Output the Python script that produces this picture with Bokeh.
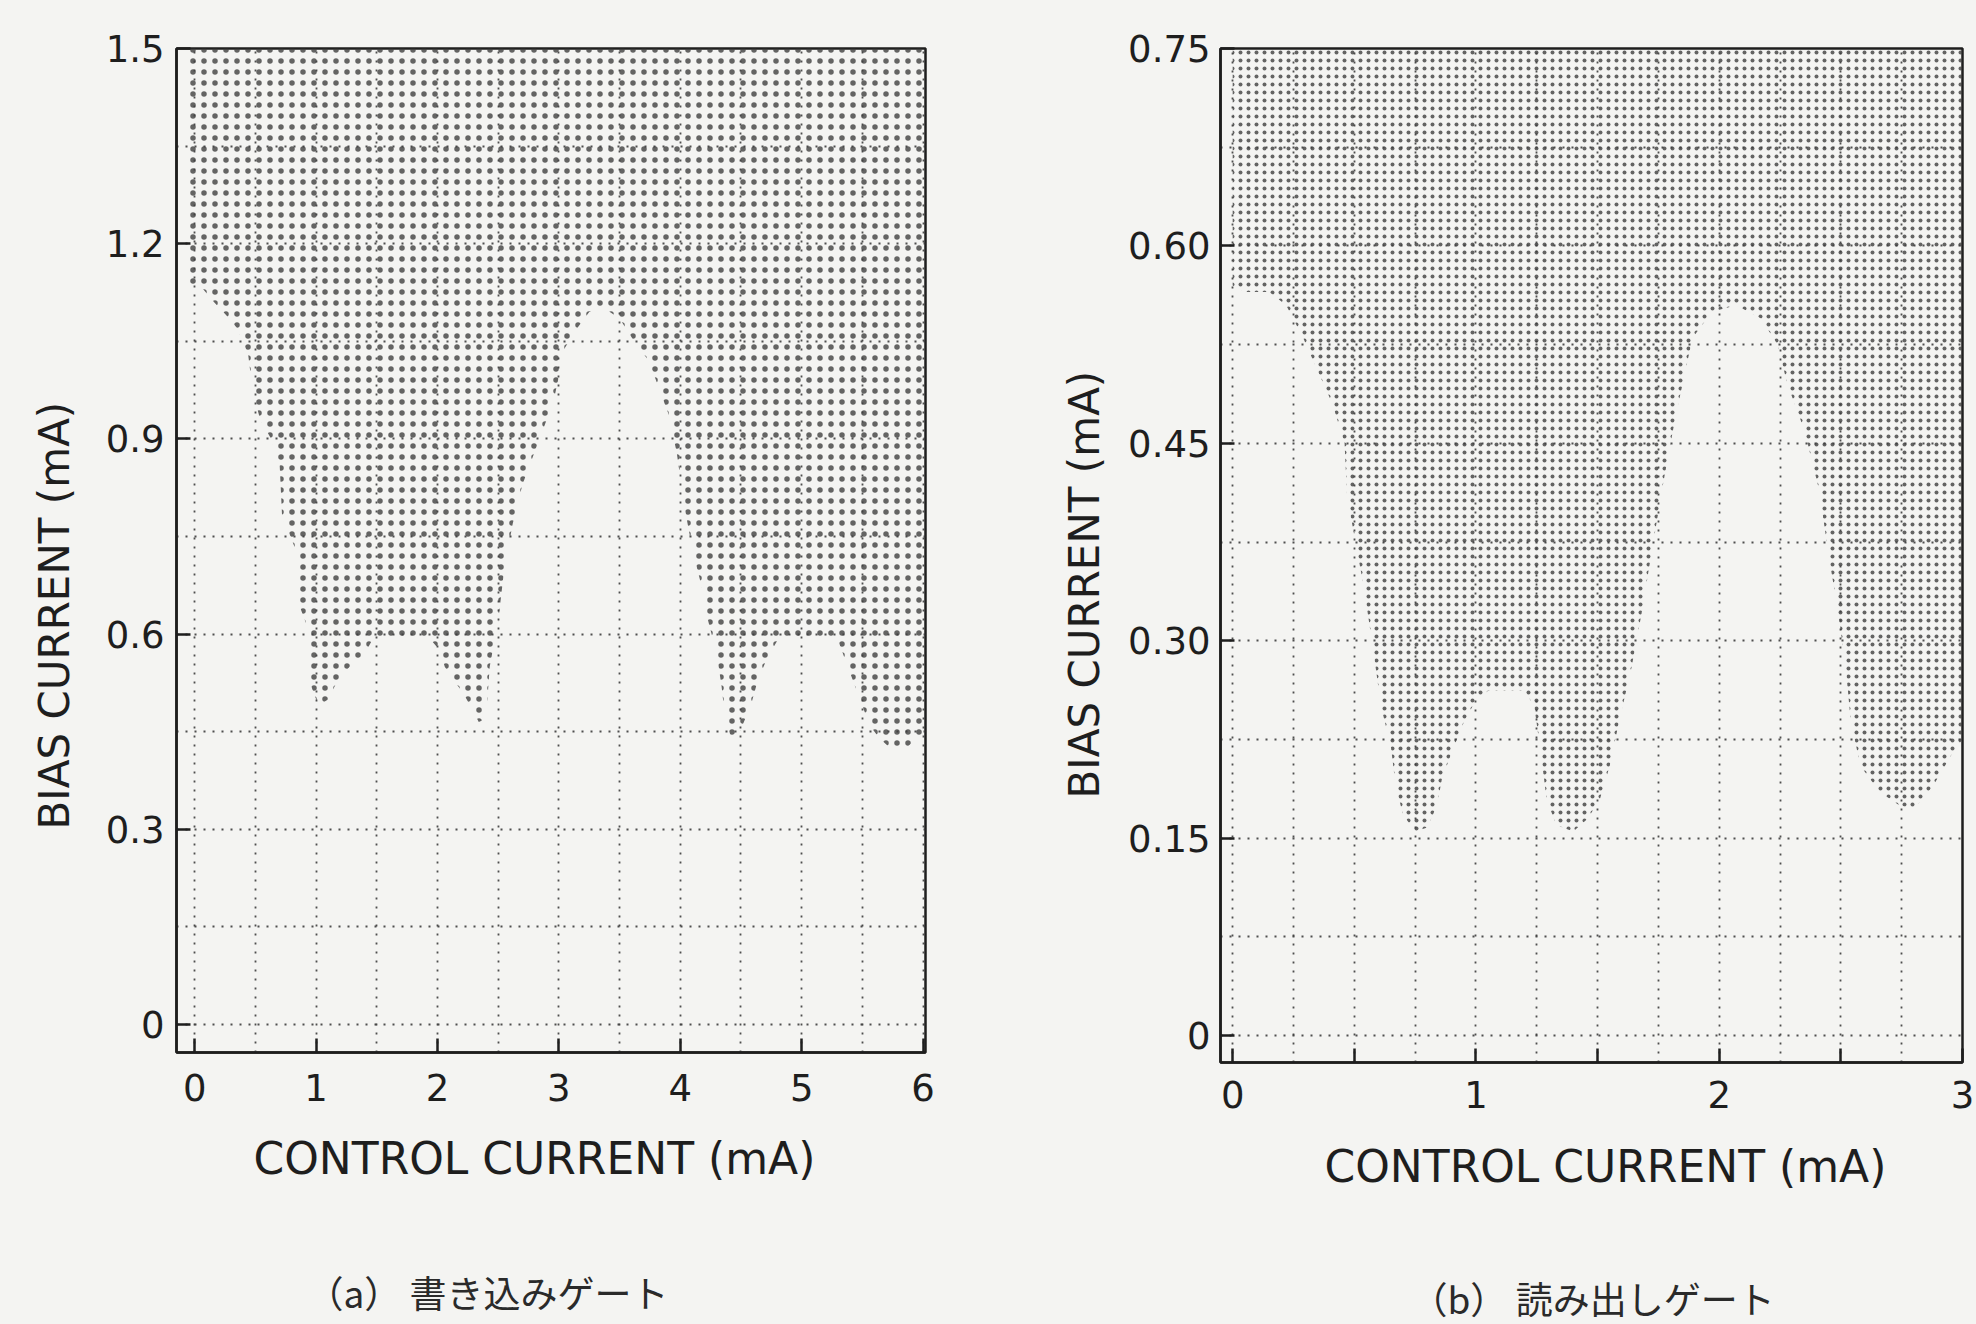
from bokeh.plotting import figure
from bokeh.models import FixedTicker, Range1d, Title
from bokeh.layouts import row
from bokeh.embed import file_html
from bokeh.resources import INLINE

# ---------------- (a) write gate ----------------
a_bx = [-0.05, 0.07, 0.16, 0.26, 0.35, 0.44, 0.48, 0.54, 0.63, 0.70, 0.72, 0.79, 0.85, 0.87,
        0.95, 0.96, 1.02, 1.10, 1.18, 1.30, 1.40, 1.46, 1.60, 1.80, 1.95, 2.02, 2.06, 2.13,
        2.21, 2.27, 2.34, 2.40, 2.43, 2.50, 2.55, 2.62, 2.70, 2.80, 2.90, 2.97, 3.05, 3.15,
        3.25, 3.38, 3.50, 3.62, 3.74, 3.82, 3.90, 3.97, 4.03, 4.10, 4.18, 4.23, 4.30, 4.34,
        4.37, 4.42, 4.49, 4.58, 4.64, 4.72, 4.80, 5.00, 5.30, 5.36, 5.44, 5.50, 5.56, 5.64,
        5.76, 5.86, 5.95, 6.02]
a_by = [1.14, 1.13, 1.11, 1.09, 1.07, 1.03, 0.97, 0.93, 0.90, 0.86, 0.78, 0.75, 0.72, 0.64,
        0.60, 0.52, 0.49, 0.50, 0.53, 0.555, 0.57, 0.59, 0.595, 0.595, 0.59, 0.575, 0.55, 0.53,
        0.51, 0.49, 0.465, 0.47, 0.55, 0.62, 0.70, 0.77, 0.83, 0.88, 0.93, 0.97, 1.04, 1.07,
        1.095, 1.10, 1.085, 1.05, 1.02, 0.98, 0.94, 0.88, 0.80, 0.73, 0.67, 0.62, 0.57, 0.52,
        0.47, 0.44, 0.45, 0.49, 0.53, 0.565, 0.59, 0.595, 0.59, 0.56, 0.52, 0.49, 0.46, 0.44,
        0.42, 0.425, 0.44, 0.45]
a_xticks = [0, 1, 2, 3, 4, 5, 6]
a_yticks = [0, 0.3, 0.6, 0.9, 1.2, 1.5]
a_ytick_labels = ["0", "0.3", "0.6", "0.9", "1.2", "1.5"]
a_xgrid = [0, 0.5, 1, 1.5, 2, 2.5, 3, 3.5, 4, 4.5, 5, 5.5, 6]
a_ygrid = [0, 0.15, 0.3, 0.45, 0.6, 0.75, 0.9, 1.05, 1.2, 1.35, 1.5]

# ---------------- (b) read gate ----------------
b_bx = [0.0, 0.05, 0.15, 0.22, 0.29, 0.35, 0.41, 0.46, 0.47, 0.50, 0.54, 0.58, 0.61, 0.65,
        0.67, 0.70, 0.75, 0.80, 0.84, 0.86, 0.90, 0.95, 1.00, 1.05, 1.20, 1.24, 1.27, 1.29,
        1.33, 1.40, 1.46, 1.51, 1.55, 1.59, 1.64, 1.68, 1.72, 1.77, 1.82, 1.89, 1.97, 2.07,
        2.17, 2.24, 2.28, 2.35, 2.41, 2.45, 2.49, 2.52, 2.54, 2.58, 2.66, 2.74, 2.80, 2.88,
        2.96, 3.0]
b_by = [0.57, 0.565, 0.565, 0.555, 0.53, 0.505, 0.48, 0.45, 0.41, 0.38, 0.34, 0.29, 0.25, 0.22,
        0.19, 0.168, 0.155, 0.158, 0.175, 0.195, 0.215, 0.238, 0.255, 0.262, 0.262, 0.25, 0.21, 0.18,
        0.16, 0.155, 0.165, 0.18, 0.205, 0.24, 0.28, 0.32, 0.365, 0.42, 0.47, 0.53, 0.55, 0.555,
        0.545, 0.525, 0.495, 0.46, 0.415, 0.365, 0.32, 0.28, 0.24, 0.205, 0.185, 0.175, 0.172, 0.19,
        0.215, 0.225]
b_xticks = [0, 1, 2, 3]
b_xminor = [0.5, 1.5, 2.5]
b_yticks = [0, 0.15, 0.30, 0.45, 0.60, 0.75]
b_ytick_labels = ["0", "0.15", "0.30", "0.45", "0.60", "0.75"]
b_xgrid = [0, 0.25, 0.5, 0.75, 1, 1.25, 1.5, 1.75, 2, 2.25, 2.5, 2.75, 3]
b_ygrid = [0, 0.075, 0.15, 0.225, 0.3, 0.375, 0.45, 0.525, 0.6, 0.675, 0.75]

x_title = "CONTROL CURRENT (mA)"
y_title = "BIAS CURRENT (mA)"
cap_a = "（a） 書き込みゲート"
cap_b = "（b） 読み出しゲート"

BG = "#f4f4f2"
INK = "#1e1e1e"
FONT = "DejaVu Sans"

A = dict(x0=-0.15, x1=6.02, y0=-0.043, y1=1.5, left=176, fw=749, right=55,
         top=46, fh=1004, bottom=274, xs=21, ys=12, hs=11,
         y_off=223, y_so=48, x_off=77, x_so=54, c_off=130, c_so=104)
B = dict(x0=-0.05, x1=3.0, y0=-0.0205, y1=0.75, left=240, fw=742, right=14,
         top=48, fh=1014, bottom=262, xs=18, ys=10, hs=8,
         y_off=264, y_so=34, x_off=104, x_so=56, c_off=190, c_so=98)


def make(P, bx, by, xticks, xminor, yticks, ylabels, xgrid, ygrid, caption):
    p = figure(frame_width=P["fw"], frame_height=P["fh"],
               x_range=Range1d(P["x0"], P["x1"]), y_range=Range1d(P["y0"], P["y1"]),
               output_backend="svg", toolbar_location=None,
               min_border_left=P["left"], min_border_right=P["right"],
               min_border_top=P["top"], min_border_bottom=P["bottom"],
               background_fill_color=BG, border_fill_color=BG)
    p.outline_line_color = INK
    p.outline_line_width = 2.5
    p.outline_line_alpha = 1.0

    # stippled region above the threshold boundary
    px = list(bx) + [bx[-1], bx[0]]
    py = list(by) + [P["y1"], P["y1"]]
    p.patch(px, py, fill_alpha=0, line_color=None,
            hatch_pattern=".", hatch_color="#404040", hatch_scale=P["hs"],
            hatch_weight=2.5, hatch_alpha=0.8)

    p.xaxis.ticker = FixedTicker(ticks=xticks, minor_ticks=xminor)
    p.yaxis.ticker = FixedTicker(ticks=yticks)
    p.yaxis.major_label_overrides = {v: s for v, s in zip(yticks, ylabels)}
    p.xaxis.major_label_overrides = {v: str(v) for v in xticks}
    for ax in (p.xaxis[0], p.yaxis[0]):
        ax.axis_line_color = INK
        ax.axis_line_width = 2.5
        ax.major_tick_line_color = INK
        ax.major_tick_line_width = 2.5
        ax.major_tick_in = 14
        ax.major_tick_out = 0
        ax.minor_tick_line_color = INK
        ax.minor_tick_line_width = 2.5
        ax.minor_tick_in = 14
        ax.minor_tick_out = 0
        ax.major_label_text_font = FONT
        ax.major_label_text_font_size = "37px"
        ax.major_label_text_color = INK
    p.xaxis.major_label_standoff = P["xs"]
    p.yaxis.major_label_standoff = P["ys"]
    p.yaxis.minor_tick_line_color = None

    p.xgrid.ticker = FixedTicker(ticks=xgrid)
    p.ygrid.ticker = FixedTicker(ticks=ygrid)
    for g in (p.xgrid[0], p.ygrid[0]):
        g.grid_line_color = "#3c3c3c"
        g.grid_line_width = 1.8
        g.grid_line_dash = "2 7"
        g.grid_line_alpha = 0.9

    p.add_layout(Title(text=y_title, align="left", offset=P["y_off"], standoff=P["y_so"],
                       text_font=FONT, text_font_size="42px", text_font_style="normal",
                       text_color=INK), "left")
    p.add_layout(Title(text=x_title, align="left", offset=P["x_off"], standoff=P["x_so"],
                       text_font=FONT, text_font_size="44px", text_font_style="normal",
                       text_color=INK), "below")
    p.add_layout(Title(text=caption, align="left", offset=P["c_off"], standoff=P["c_so"],
                       text_font="Noto Sans CJK JP", text_font_size="37px",
                       text_font_style="normal", text_color="#2a2a2a"), "below")
    return p


pa = make(A, a_bx, a_by, a_xticks, [], a_yticks, a_ytick_labels, a_xgrid, a_ygrid, cap_a)
pb = make(B, b_bx, b_by, b_xticks, b_xminor, b_yticks, b_ytick_labels, b_xgrid, b_ygrid, cap_b)

layout = row(pa, pb, spacing=0, styles={"background-color": BG})
open("out.html", "w").write(file_html(layout, INLINE))
